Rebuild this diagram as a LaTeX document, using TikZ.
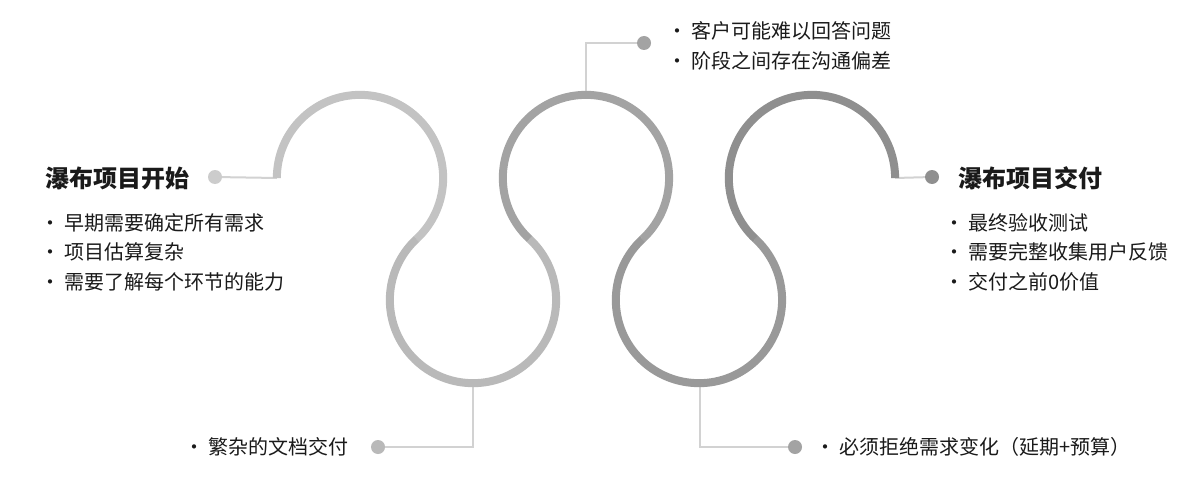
\documentclass[tikz,border=0pt]{standalone}
\usepackage{fontspec}
\setmainfont{Noto Sans CJK SC}
\usepackage{tikz}
\usetikzlibrary{positioning, calc}
\definecolor{wfloopA}{HTML}{C3C3C3}
\definecolor{wfloopB}{HTML}{B9B9B9}
\definecolor{wfloopC}{HTML}{A3A3A3}
\definecolor{wfloopD}{HTML}{999999}
\definecolor{wfloopE}{HTML}{8F8F8F}
\definecolor{wflink}{HTML}{D2D2D2}
\definecolor{wftext}{HTML}{1A1A1A}

\begin{document}
\begin{tikzpicture}[
        x=1pt, y=1pt,
        loopline/.style={line width=8pt, draw=#1},
        link/.style={draw=wflink, line width=2pt},
        dot/.style={circle, fill=#1, inner sep=0pt, minimum size=14pt},
        title/.style={font=\fontsize{24}{28}\selectfont\bfseries, text=wftext, anchor=west, inner sep=0pt},
        items/.style={font=\fontsize{20}{29.5}\selectfont, text=wftext, align=left, anchor=west, inner sep=0pt}
    ]
    \fill[white] (0,0) rectangle (1190,-500);
    \useasboundingbox (0,0) rectangle (1190,-500);

    % loop ends and stems
    \coordinate (start) at (276.85,-178);
    \coordinate (finish) at (895.15,-178);
    \coordinate (topM) at (586,-94.85);
    \coordinate (lowA) at (473,-383.15);
    \coordinate (lowB) at (700,-383.15);

    % dots
    \node[dot=wfloopA!85] (dotL) at (215,-177) {};
    \node[dot=wfloopC] (dotT) at (644,-43) {};
    \node[dot=wfloopE] (dotR) at (932,-177) {};
    \node[dot=wfloopB] (dotBL) at (378,-447) {};
    \node[dot=wfloopD!90] (dotBR) at (795,-447) {};

    % texts
    \node[title] (startT) at (45,-178) {瀑布项目开始};
    \node[items] (startL) at (40,-252) {• 早期需要确定所有需求\\• 项目估算复杂\\• 需要了解每个环节的能力};
    \node[items] (midT) at (667,-46) {• 客户可能难以回答问题\\• 阶段之间存在沟通偏差};
    \node[items] (lowAT) at (184,-447) {• 繁杂的文档交付};
    \node[items] (lowBT) at (815,-447) {• 必须拒绝需求变化（延期+预算）};
    \node[title] (endT) at (958,-178) {瀑布项目交付};
    \node[items] (endL) at (944,-252) {• 最终验收测试\\• 需要完整收集用户反馈\\• 交付之前0价值};

    % connectors
    \draw[link] (dotL) -- (start);
    \draw[link] (topM) |- (dotT);
    \draw[link] (lowA) |- (dotBL);
    \draw[link] (lowB) |- (dotBR);
    \draw[link] (finish) -- (dotR);

    % the loops
    \draw[loopline=wfloopA] (start) arc[start angle=180, end angle=-47.2, radius=83.15] coordinate (j1);
    \draw[loopline=wfloopB] (j1) arc[start angle=132.8, end angle=407.2, radius=83.15] coordinate (j2);
    \draw[loopline=wfloopC] (j2) arc[start angle=227.2, end angle=-47.2, radius=83.15] coordinate (j3);
    \draw[loopline=wfloopD] (j3) arc[start angle=132.8, end angle=407.2, radius=83.15] coordinate (j4);
    \draw[loopline=wfloopE] (j4) arc[start angle=227.2, end angle=0, radius=83.15];

\end{tikzpicture}
\end{document}
